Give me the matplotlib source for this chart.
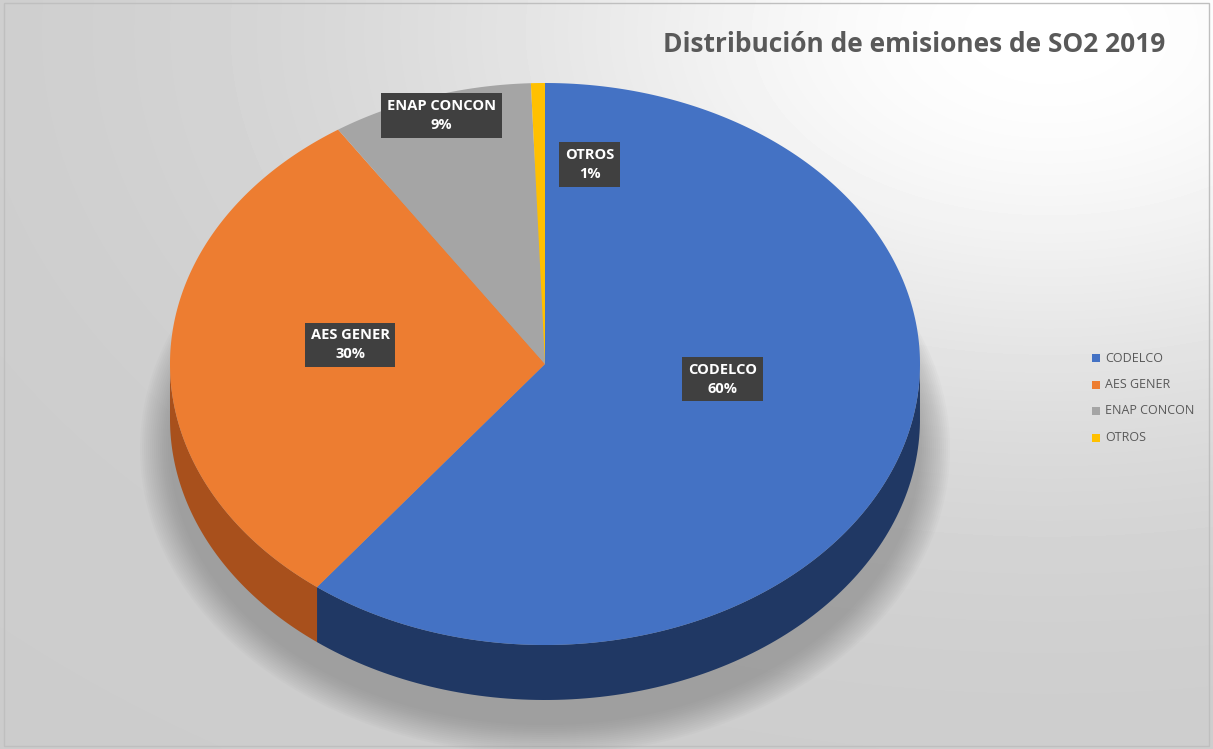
import numpy as np
import matplotlib.pyplot as plt
from matplotlib.patches import Polygon, Ellipse, Rectangle

# datos
empresas = ['CODELCO', 'AES GENER', 'ENAP CONCON', 'OTROS']
porcentajes = [60.4, 30.3, 8.7, 0.6]
colores = ['#4472C4', '#ED7D31', '#A5A5A5', '#FFC000']
colores_lado = ['#203864', '#A8501C', '#6E6E6E', '#B38600']

titulo = 'Distribución de emisiones de SO2 2019'

plt.rcParams['font.family'] = ['Open Sans', 'DejaVu Sans']

W, H = 1213, 749
fig = plt.figure(figsize=(W / 100, H / 100), dpi=100)
ax = fig.add_axes([0, 0, 1, 1])
ax.set_xlim(0, W)
ax.set_ylim(H, 0)
ax.axis('off')

# fondo con degradado (blanco arriba a la derecha, gris en el resto)
yy, xx = np.mgrid[0:H:4, 0:W:4]
d = np.sqrt(((xx - 1050) / W) ** 2 + ((yy - 30) / H) ** 2)
fondo = 0.8 + 0.2 * np.exp(-(d / 0.5) ** 2)
ax.imshow(fondo, cmap='gray', vmin=0, vmax=1, extent=(0, W, H, 0),
          aspect='auto', zorder=0, interpolation='bicubic')
ax.add_patch(Rectangle((4, 3), W - 8, H - 6, fill=False, ec='#bfbfbf', lw=1, zorder=1))

# geometría del pastel 3D
cx, cy, rx, ry, prof = 545, 364, 375, 281, 55

# sombra difusa
for k in range(16):
    ax.add_patch(Ellipse((cx, cy + 85), 2 * rx + 60 - 4 * k, 2 * ry + 50 - 4 * k,
                         color='#707070', alpha=0.035, lw=0, zorder=1))

fracs = np.array(porcentajes) / sum(porcentajes)
bordes = 90 - 360 * np.concatenate([[0], np.cumsum(fracs)])

# lados (solo la mitad frontal)
for i in range(len(empresas)):
    ts = np.linspace(bordes[i], bordes[i + 1], 200)
    vis = np.sin(np.radians(ts)) < 0
    if not vis.any():
        continue
    ts = ts[vis]
    xs = cx + rx * np.cos(np.radians(ts))
    ys = cy - ry * np.sin(np.radians(ts))
    pts = np.concatenate([np.column_stack([xs, ys]),
                          np.column_stack([xs[::-1], ys[::-1] + prof])])
    ax.add_patch(Polygon(pts, closed=True, fc=colores_lado[i], ec='none', zorder=2))

# caras superiores
for i in range(len(empresas)):
    ts = np.radians(np.linspace(bordes[i], bordes[i + 1], 300))
    xs = cx + rx * np.cos(ts)
    ys = cy - ry * np.sin(ts)
    pts = np.vstack([[cx, cy], np.column_stack([xs, ys])])
    ax.add_patch(Polygon(pts, closed=True, fc=colores[i], ec='none', zorder=3))

# etiquetas
radios = [0.5, 0.52, 0.93, 0.72]
desp = [(0, -30), (0, -14), (3, 0), (50, 3)]
for i in range(len(empresas)):
    t = np.radians((bordes[i] + bordes[i + 1]) / 2)
    x = cx + radios[i] * rx * np.cos(t) + desp[i][0]
    y = cy - radios[i] * ry * np.sin(t) + desp[i][1]
    ax.text(x, y, f'{empresas[i]}\n{round(porcentajes[i])}%', ha='center', va='center',
            color='white', fontsize=10.5, fontweight='bold', linespacing=1.45, zorder=5,
            bbox=dict(boxstyle='square,pad=0.4', fc='#404040', ec='none'))

# título
ax.text(1165, 45, titulo, ha='right', va='center', fontsize=19, color='#595959',
        fontweight='bold', zorder=5)

# leyenda
for i, nombre in enumerate(empresas):
    y = 358 + i * 26.5
    ax.add_patch(Rectangle((1092, y - 4), 8, 8, fc=colores[i], ec='none', zorder=5))
    ax.text(1105, y, nombre, ha='left', va='center', fontsize=9, color='#595959', zorder=5)

fig.savefig('out.png', dpi=100)
